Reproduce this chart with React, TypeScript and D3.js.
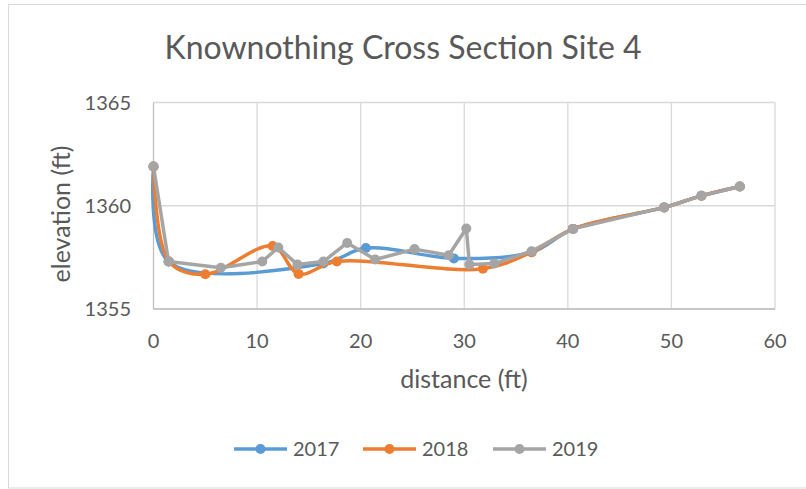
import React from 'react';
import * as d3 from 'd3';

const dist2017 = [0, 1.45, 16.4, 20.5, 29, 36.5, 40.5, 49.3, 52.9, 56.6];
const elev2017 = [1361.9, 1357.3, 1357.2, 1357.95, 1357.45, 1357.75, 1358.88, 1359.92, 1360.48, 1360.93];

const dist2018 = [0, 1.5, 5, 11.5, 14, 17.7, 31.8, 36.5, 40.5, 49.3, 52.9, 56.6];
const elev2018 = [1361.9, 1357.3, 1356.68, 1358.05, 1356.7, 1357.3, 1356.95, 1357.75, 1358.88, 1359.92, 1360.48, 1360.93];

const dist2019 = [0, 1.45, 6.5, 10.5, 12.05, 13.9, 16.4, 18.7, 21.4, 25.2, 28.5, 30.2, 30.5, 32.9, 36.5, 40.5, 49.3, 52.9, 56.6];
const elev2019 = [1361.9, 1357.3, 1357.0, 1357.3, 1357.98, 1357.15, 1357.3, 1358.2, 1357.4, 1357.9, 1357.6, 1358.9, 1357.15, 1357.2, 1357.8, 1358.88, 1359.92, 1360.48, 1360.93];

const xTicks = [0, 10, 20, 30, 40, 50, 60];
const yTicks = [1355, 1360, 1365];

const series = [
  { name: '2017', xs: dist2017, ys: elev2017, color: '#5B9BD5', smooth: true },
  { name: '2018', xs: dist2018, ys: elev2018, color: '#ED7D31', smooth: true },
  { name: '2019', xs: dist2019, ys: elev2019, color: '#A5A5A5', smooth: false },
];

const W = 806;
const H = 489;
const left = 153.5;
const right = 775;
const top = 102.5;
const bottom = 309;
const font = 'Lato, "Open Sans", sans-serif';
const textColor = '#595959';

export default function App() {
  const x = d3.scaleLinear().domain([0, 60]).range([left, right]);
  const y = d3.scaleLinear().domain([1355, 1365]).range([bottom, top]);

  const legendX = [234, 363, 493];

  return (
    <svg width={W} height={H} style={{ position: 'absolute', left: 0, top: 0 }} fontFamily={font}>
      <rect x={0} y={0} width={W} height={H} fill="#fff" />
      <rect x={8.5} y={4.5} width={810} height={483.5} fill="none" stroke="#d9d9d9" />
      <text x={403} y={59} textAnchor="middle" fontSize={32} fill={textColor}>
        Knownothing Cross Section Site 4
      </text>
      {yTicks.map((t) => (
        <line key={'gy' + t} x1={left} x2={right} y1={y(t)} y2={y(t)} stroke="#d9d9d9" strokeWidth={1.3} />
      ))}
      {xTicks.map((t) => (
        <line key={'gx' + t} x1={x(t)} x2={x(t)} y1={top} y2={bottom} stroke={t === 0 ? '#bfbfbf' : '#d9d9d9'} strokeWidth={1.3} />
      ))}
      <line x1={left} x2={right} y1={bottom} y2={bottom} stroke="#bfbfbf" strokeWidth={1.3} />
      {yTicks.map((t) => (
        <text key={'ty' + t} x={131} y={y(t) + 7} textAnchor="end" fontSize={20} fill={textColor}>
          {t}
        </text>
      ))}
      {xTicks.map((t) => (
        <text key={'tx' + t} x={x(t)} y={348} textAnchor="middle" fontSize={20} fill={textColor}>
          {t}
        </text>
      ))}
      <text x={464} y={388} textAnchor="middle" fontSize={25} fill={textColor}>
        distance (ft)
      </text>
      <text transform={`translate(70,214) rotate(-90)`} textAnchor="middle" fontSize={25} fill={textColor}>
        elevation (ft)
      </text>
      {series.map((s) => {
        const pts = s.xs.map((d, i) => [x(d), y(s.ys[i])] as [number, number]);
        const line = d3.line().curve(s.smooth ? d3.curveCatmullRom.alpha(0.5) : d3.curveLinear);
        return (
          <g key={s.name}>
            <path d={line(pts) || ''} fill="none" stroke={s.color} strokeWidth={3.5} strokeLinejoin="round" />
            {pts.map((p, i) => (
              <circle key={i} cx={p[0]} cy={p[1]} r={5} fill={s.color} />
            ))}
          </g>
        );
      })}
      {series.map((s, i) => (
        <g key={'lg' + s.name} transform={`translate(${legendX[i]},449)`}>
          <line x1={0} x2={53} y1={0} y2={0} stroke={s.color} strokeWidth={3.5} />
          <circle cx={26.5} cy={0} r={5} fill={s.color} />
          <text x={59} y={7} fontSize={20} fill={textColor}>
            {s.name}
          </text>
        </g>
      ))}
    </svg>
  );
}
